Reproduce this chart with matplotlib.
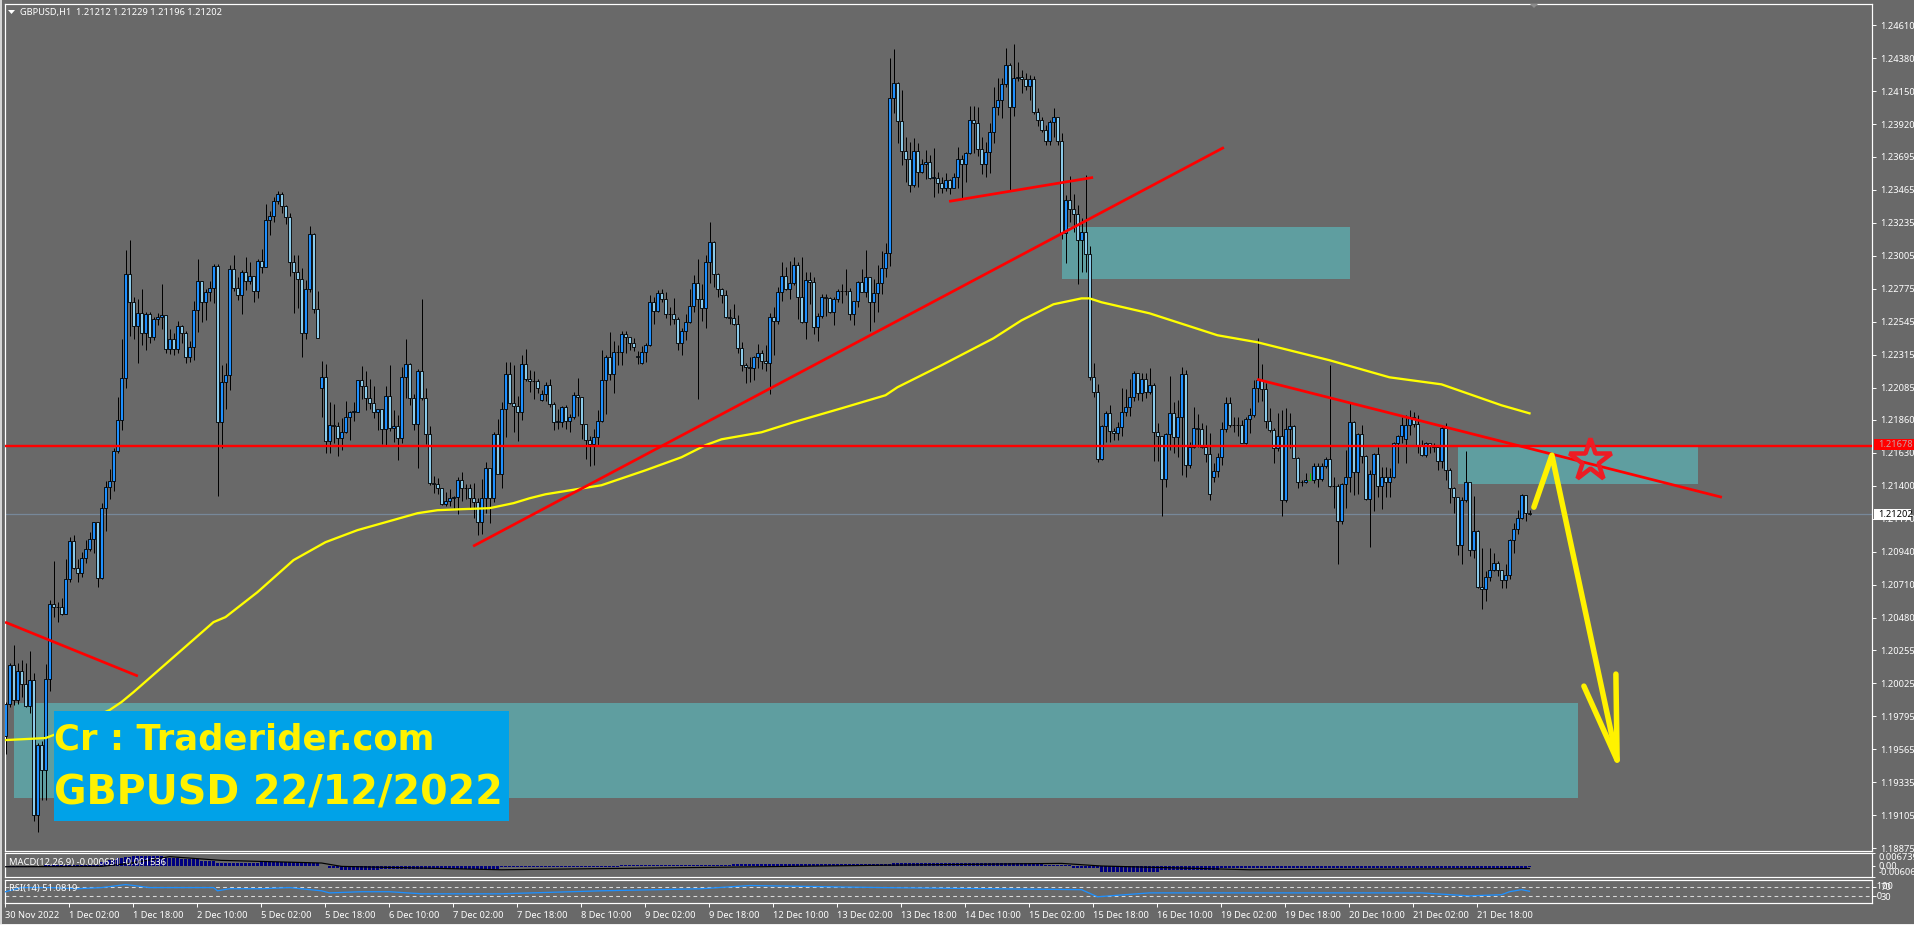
import numpy as np
import matplotlib
matplotlib.use("Agg")
import matplotlib.pyplot as plt
from matplotlib.patches import Rectangle, Polygon

plt.rcParams['font.family'] = ['Noto Sans', 'DejaVu Sans']

# ---------- data: prices in MT4 points (1 point = 0.00001) ----------
first_open = 119654
closes = [
119878,120151,119906,120109,120018,119864,120046,119108,119598,119423,
120053,120578,120557,120557,120508,120753,121019,120830,120795,120900,
120963,121033,121152,120760,121243,121390,121432,
121645,121862,122149,122877,122681,122513,122604,122464,122597,122436,
122562,122576,122590,122352,122422,122352,122513,122464,122296,122366,
122625,122828,122681,122751,122779,122933,121848,122121,122170,122912,
122779,122730,122891,122828,122863,122758,122968,122926,123255,123283,
123388,123437,123353,123276,122961,122891,122842,122464,122772,123157,
122632,122429,122156,121715,121827,121820,121736,121778,121883,121918,
121918,122135,122093,122016,121981,121918,121939,121799,122030,121806,
121820,121736,122156,122247,122016,121834,122198,122016,121764,121421,
121414,121386,121274,121295,121316,121323,121442,121386,121386,121316,
121288,121148,121316,121526,121316,121764,121484,121939,122177,121981,
121960,121918,122247,122142,122128,122128,122086,122044,122100,121974,
121848,121848,121953,121855,121883,122037,122023,121834,121722,121694,
121743,121855,122135,122296,122177,122331,122331,122457,122436,122394,
122366,122296,122331,122380,122681,122618,122744,122702,122597,122597,
122562,122394,122478,122541,122653,122814,122702,122639,122961,123101,
122877,122772,122730,122576,122569,122527,122359,122240,122226,122219,
122296,122324,122268,122254,122576,122548,122751,122863,122772,122814,
122940,122716,122541,122835,122821,122506,122583,122716,122709,122611,
122702,122758,122758,122758,122597,122688,122821,122751,122856,122681,
122744,122814,122919,123024,
124102,124207,123941,123731,123675,123500,123731,123591,123647,123654,
123549,123549,123514,123479,123535,123479,123556,123675,123647,123717,
123948,123927,123745,123647,123724,123864,124039,124088,124200,124333,
124039,124242,124249,124235,124186,124235,124004,123948,123878,123801,
123934,123969,123801,123164,123395,123332,123297,123115,123171,123017,
122156,
122055,121586,121817,121908,121782,121768,121810,121915,121950,122020,
122188,122048,122146,122055,122104,121775,121747,121446,121761,121908,
121740,121880,122181,121544,121670,121803,121796,121670,121621,121341,
121502,121600,121796,121978,121824,121824,121824,121698,121866,121894,
122083,122139,122076,121852,121789,121663,121747,121299,121796,121817,
121593,121425,121425,121439,121439,121537,121446,121537,121586,121397,
121397,121159,121411,121460,121845,121495,121761,121607,121306,121481,
121621,121397,121460,121425,121460,121698,121747,121824,121824,121880,
121831,121677,121614,121698,121684,121670,121572,121803,121509,121383,
121320,120991,121299,121425,120956,121089,120697,120683,120767,120816,
120865,120816,120746,120781,121026,121103,121180,121334,121208,121202]

highs = [
119892,120165,120291,120165,120186,120165,120249,120095,119612,119626,
120158,120606,120879,120592,120620,120893,121047,121061,120893,120942,
121026,121082,121152,121152,121278,121432,121516,
121666,122023,122422,123045,123115,122716,122702,122772,122611,122611,
122576,122604,122807,122590,122492,122464,122548,122520,122478,122408,
122688,122982,122828,122772,122828,122947,122947,122240,122254,122940,
123010,122856,122905,122996,122961,122856,122982,123052,123367,123318,
123416,123458,123451,123360,123304,123010,123010,122919,122835,123213,
123164,122758,122268,122247,121988,121974,121848,121876,121995,121925,
121988,122135,122233,122198,122142,122093,121939,121939,122093,122240,
121932,121897,122226,122422,122254,122044,122212,122702,122086,121820,
121470,121456,121386,121358,121379,121330,121463,121498,121414,121414,
121421,121316,121449,121568,121526,121778,121869,121988,122261,122261,
122240,122030,122310,122352,122205,122198,122142,122072,122121,122142,
121988,121939,121960,121967,121904,122058,122149,122016,121834,121750,
121799,121932,122345,122310,122471,122408,122380,122478,122478,122429,
122429,122338,122373,122394,122730,122716,122765,122772,122751,122646,
122709,122576,122499,122597,122772,122870,122982,122807,123010,123241,
123108,122884,122779,122765,122632,122667,122590,122401,122254,122296,
122303,122387,122345,122380,122604,122646,122786,122961,122926,122968,
122996,122961,122996,122891,122891,122856,122604,122737,122737,122716,
122716,122772,122807,122912,122779,122688,122828,122912,123045,122856,
122842,122940,123038,123094,
124382,124445,124214,124158,123829,123794,123822,123787,123675,123738,
123703,123752,123591,123556,123584,123542,123584,123759,123703,123724,
124046,124046,124039,123829,123794,123927,124179,124242,124242,124452,
124347,124480,124354,124298,124277,124263,124256,124032,123969,123913,
123948,124032,123969,123857,123430,123563,123437,123360,123269,123570,
123073,
122258,122111,121824,121922,121964,121803,121845,122083,122076,122146,
122202,122188,122188,122188,122223,122118,121838,121719,121768,122167,
121985,121999,122230,122209,121705,121950,121901,121838,121824,121768,
121558,121628,121845,122020,122020,121880,121880,121859,121880,121943,
122139,122433,122251,122118,121943,121803,121908,121929,121943,121908,
121824,121600,121439,121488,121488,121558,121558,121558,121600,122244,
121460,121411,121418,121649,121978,121852,121768,121824,121614,121509,
121628,121670,121530,121530,121523,121705,121754,121880,121894,121929,
121915,121894,121719,121705,121698,121698,121670,121824,121838,121523,
121390,121320,121320,121642,121418,121327,121096,120970,120809,120970,
120935,120879,120809,120858,121033,121145,121229,121341,121334,121229]

lows = [
119535,119857,119871,119878,119927,119857,119815,119066,118989,119213,
119213,119969,120487,120452,120501,120550,120732,120823,120732,120767,
120865,120949,120935,120697,120753,121089,121306,
121365,121631,121792,122086,122443,122422,122254,122380,122345,122394,
122415,122520,122492,122324,122317,122310,122324,122394,122254,122261,
122275,122471,122541,122555,122688,122674,121330,121666,121939,122072,
122758,122695,122597,122765,122807,122681,122709,122884,122926,123150,
123241,123367,123304,123227,122863,122604,122639,122296,122422,122751,
122604,122429,121883,121631,121631,121701,121610,121652,121771,121722,
121855,121918,122009,121932,121939,121876,121792,121694,121687,121785,
121708,121582,121701,122016,121967,121792,121526,122002,121694,121407,
121351,121344,121267,121260,121260,121246,121204,121295,121309,121239,
121176,121057,121064,121211,121141,121288,121484,121386,121743,121974,
121778,121715,121862,122128,122058,122009,122051,121995,121995,121953,
121792,121799,121813,121799,121778,121869,121890,121729,121589,121540,
121547,121680,121848,121904,122135,122051,122240,122240,122324,122345,
122338,122247,122247,122261,122373,122527,122611,122681,122569,122520,
122527,122345,122310,122415,122534,122611,122009,122548,122499,122814,
122786,122716,122674,122569,122527,122520,122324,122198,122114,122121,
122135,122219,122212,122198,122044,122310,122527,122688,122765,122702,
122800,122562,122534,122422,122667,122457,122408,122569,122583,122604,
122520,122681,122674,122730,122555,122520,122646,122751,122716,122478,
122541,122611,122737,122856,
122933,123997,123787,123640,123521,123451,123486,123486,123584,123542,
123542,123416,123444,123444,123458,123437,123479,123479,123409,123521,
123710,123717,123696,123577,123556,123584,123787,123983,123962,124179,
123458,123976,124221,124137,124158,124088,123990,123906,123864,123773,
123773,123829,123773,123122,122954,123241,123171,122807,122891,122891,
122135,
122020,121565,121579,121705,121705,121719,121719,121747,121887,121887,
121992,121999,121992,122013,122041,121572,121572,121194,121390,121649,
121628,121600,121474,121460,121523,121663,121670,121663,121565,121299,
121425,121460,121544,121775,121810,121775,121747,121698,121691,121768,
121880,121985,121992,121803,121775,121558,121642,121194,121285,121663,
121593,121383,121397,121418,121439,121418,121390,121432,121523,121390,
121243,120858,121138,121243,121355,121334,121341,121558,121299,120977,
121222,121320,121236,121320,121320,121453,121558,121698,121558,121754,
121810,121628,121607,121600,121628,121635,121509,121523,121439,121278,
121208,120921,120858,121285,120914,120900,120690,120543,120599,120739,
120809,120774,120690,120690,120753,120935,121068,121173,121159,121196]

open_gaps = {79: 122086, 134: 122002, 158: 122303, 159: 122254,
             302: 121460, 350: 121726, 381: 121212}
odd_green_bar = 326

ma_index = [0,10,12,26,29,32,52,55,63,72,80,88,95,103,108,114,121,127,131,135,
            149,160,169,175,179,189,197,209,220,223,234,247,254,262,269,271,274,
            286,303,313,331,346,359,374,381]
ma_points = [119629,119643,119664,119838,119894,119963,120451,120486,120660,120883,
             121008,121092,121147,121210,121231,121238,121245,121280,121314,121342,
             121405,121509,121600,121684,121725,121774,121844,121941,122032,122088,
             122241,122429,122554,122666,122707,122707,122680,122603,122450,122401,
             122276,122157,122108,121962,121906]

macd_runs = [(10,-.0007),(14,.0002),(2,.0019),(2,.0030),(2,.0041),(2,.0046),(8,.0051),
             (4,.0041),(5,.0035),(4,.0025),(11,.0014),(10,.0019),(5,.0014),(2,-.0002),
             (3,-.0013),(10,-.0023),(15,-.0018),(15,-.0018),(30,-.0008),(28,.0003),
             (40,.0008),(38,.0016),(7,.0006),(7,-.0015),(15,-.0035),(15,-.0022),
             (30,-.0012),(40,-.0014),(4,-.0018),(3,-.0012),(1,-.000631)]
signal_index = [0,24,31,41,54,79,84,124,181,219,264,274,311,381]
signal_values = [-.0006,-.0004,.0012,.0048,.0028,.0014,-.0004,-.0022,-.0008,.0002,.0012,-.0002,-.0022,-.001536]

rsi_index = [0,4,11,18,24,30,32,36,44,52,53,56,64,71,79,81,89,96,104,109,124,149,174,186,219,
             269,273,286,324,336,354,366,374,376,379,381]
rsi_values = [49,67,67,62,67,80,76,67,67,67,53,62,62,67,53,44,49,49,40,40,40,53,62,76,67,
              58,27,44,44,44,44,31,36,49,58,51]

price_ticks = [124610,124380,124150,123920,123695,123465,123235,123005,122775,122545,
               122315,122085,121860,121630,121400,121170,120940,120710,120480,120255,
               120025,119795,119565,119335,119105,118875]
time_labels = ["30 Nov 2022","1 Dec 02:00","1 Dec 18:00","2 Dec 10:00","5 Dec 02:00",
               "5 Dec 18:00","6 Dec 10:00","7 Dec 02:00","7 Dec 18:00","8 Dec 10:00",
               "9 Dec 02:00","9 Dec 18:00","12 Dec 10:00","13 Dec 02:00","13 Dec 18:00",
               "14 Dec 10:00","15 Dec 02:00","15 Dec 18:00","16 Dec 10:00","19 Dec 02:00",
               "19 Dec 18:00","20 Dec 10:00","21 Dec 02:00","21 Dec 18:00"]
BARS_PER_LABEL = 16

# zones: (first bar, last bar, upper price, lower price)
zones = [(264, 336, 123202, 122840), (363, 423, 121677, 121412), (2, 393, 119887, 119225)]
# trend lines: (bar0, price0, bar1, price1)
trend_lines = [(-0.1, 120451, 33.1, 120075), (116.9, 120980, 304.6, 123759),
               (235.9, 123383, 271.9, 123550), (312.9, 122143, 429.1, 121321)]
level_price = 121678
last_price = 121202
arrow_bars = [382.1, 386.6, 402.9]
arrow_prices = [121252, 121614, 119490]
head_bars = [394.6, 402.9, 402.6]
head_prices = [120005, 119490, 120089]
star_bar, star_price = 396.1, 121579

# ---------- colours and layout ----------
BG = '#696969'
UP = '#1e90ff'
DOWN = '#8ccbea'
TEAL = '#5f9ea0'
YEL = '#fff200'
RED = '#ff0000'
W, H = 1914, 925
px = 1 / 100 * 72  # points per pixel

fig = plt.figure(figsize=(W / 100, H / 100), dpi=100, facecolor=BG)

def panel(top, bottom):
    a = fig.add_axes([5 / W, 1 - bottom / H, 1867 / W, (bottom - top) / H], facecolor=BG)
    a.set_xlim(-0.125, 466.625)
    for s in a.spines.values():
        s.set_color('white')
        s.set_linewidth(1.0 * px * 1.2)
    a.yaxis.tick_right()
    a.tick_params(axis='y', colors='white', length=3, width=0.7, labelsize=6.7, pad=3)
    a.set_xticks([])
    return a

fig.add_artist(Rectangle((0, 0), 1.5 / W, 1, transform=fig.transFigure, color='#d4d4d4', lw=0))
fig.add_artist(Rectangle((0, 0), 1, 1.2 / H, transform=fig.transFigure, color='#f0f0f0', lw=0))

ax = panel(3.5, 851)
ax.set_ylim(1.18856, 1.24762)
ax.set_yticks([t / 1e5 for t in price_ticks])
ax.set_yticklabels([f"{t / 1e5:.5f}" for t in price_ticks])

# zones
for b0, b1, up, lo in zones:
    ax.add_patch(Rectangle((b0, lo / 1e5), b1 - b0, (up - lo) / 1e5, color=TEAL, lw=0, zorder=1))

# last price line
ax.axhline(last_price / 1e5, color='#778899', lw=0.9, zorder=1.5)

# candles
c = np.array(closes) / 1e5
h = np.array(highs) / 1e5
l = np.array(lows) / 1e5
o = np.r_[first_open / 1e5, c[:-1]]
for k, v in open_gaps.items():
    o[k] = v / 1e5
assert len(c) == len(h) == len(l) == 382, (len(c), len(h), len(l))
idx = np.arange(len(c))
wick_cols = ['#00d000' if i == odd_green_bar else 'black' for i in idx]
ax.vlines(idx, np.minimum(l, np.minimum(o, c)), np.maximum(h, np.maximum(o, c)),
          colors=wick_cols, lw=1.0 * px, zorder=3)
body_cols = [UP if c[i] >= o[i] else DOWN for i in idx]
tops = np.maximum(o, c)
bots = np.minimum(o, c)
heights = np.maximum(tops - bots, 0.00002)
ax.bar(idx, heights, bottom=bots, width=0.56, color=body_cols,
       edgecolor=wick_cols, linewidth=0.85 * px, zorder=4)

# moving average
ax.plot(ma_index, np.array(ma_points) / 1e5, color='#ffff00', lw=2.3 * px, zorder=5,
        solid_joinstyle='round')

# trend lines and level
for b0, p0, b1, p1 in trend_lines:
    ax.plot([b0, b1], [p0 / 1e5, p1 / 1e5], color=RED, lw=2.7 * px, zorder=6,
            solid_capstyle='butt')
ax.axhline(level_price / 1e5, color=RED, lw=2.4 * px, zorder=6)

# drawn arrow and star
ax.plot(arrow_bars, np.array(arrow_prices) / 1e5, color=YEL, lw=5.5 * px, zorder=7,
        solid_joinstyle='round', solid_capstyle='round')
ax.plot(head_bars, np.array(head_prices) / 1e5, color=YEL, lw=5.5 * px, zorder=7,
        solid_joinstyle='round', solid_capstyle='round')
ax.plot([star_bar], [star_price / 1e5], marker='*', ms=44 * px, mfc='none', mec='#ed1c24',
        mew=4.5 * px, zorder=8, ls='none')

# MACD
ax2 = panel(853, 877)
ax2.set_ylim(-0.006063, 0.006739)
hist = []
for n, v in macd_runs:
    hist += [v] * n
ax2.bar(np.arange(len(hist)), hist, width=0.62, color='#000080', lw=0, zorder=2)
ax2.plot(signal_index, signal_values, color='black', lw=1.0 * px * 1.2, zorder=3)
ax2.set_yticks([0.006739, 0.0, -0.006063])
ax2.set_yticklabels(['0.006739', '0.00', '-0.006063'])
ax2.tick_params(axis='y', pad=3, length=2)
labs = ax2.get_yticklabels()
labs[0].set_va('top'); labs[2].set_va('bottom')

# RSI
ax3 = panel(880, 903)
ax3.set_ylim(0, 100)
for lev in (70, 30):
    ax3.axhline(lev, color='#d8d8d8', lw=0.9 * px * 1.2, ls=(0, (3.5, 3)), zorder=2)
ax3.plot(rsi_index, rsi_values, color=UP, lw=1.0 * px * 1.3, zorder=3)
ax3.set_yticks([70, 30])
ax3.set_yticklabels(['70', '30'])

# overlapping scale labels of the RSI window, as in the terminal
for lab, val in (('100', 70), ('0', 30)):
    ax3.text(1.0, val, '  ' + lab, transform=ax3.get_yaxis_transform(), color='white',
             fontsize=6.7, va='center', ha='left')

# time axis
ax3.set_xticks([i * BARS_PER_LABEL - 0.1 for i in range(len(time_labels))])
ax3.set_xticklabels(time_labels, ha='left')
ax3.tick_params(axis='x', colors='white', length=3, width=0.7, labelsize=6.7, pad=2.5)

def ftext(x, y, s, **kw):
    return fig.text(x / W, 1 - y / H, s, **kw)

# header
fig.add_artist(Polygon([[8 / W, 1 - 10 / H], [15 / W, 1 - 10 / H], [11.5 / W, 1 - 14 / H]],
                       transform=fig.transFigure, color='white', lw=0))
ftext(20, 12, "GBPUSD,H1  1.21212 1.21229 1.21196 1.21202", color='white', fontsize=6.65,
      va='center', ha='left')
ftext(9, 862.5, "MACD(12,26,9) -0.000631 -0.001536", color='white', fontsize=6.8, va='center')
ftext(9, 888.5, "RSI(14) 51.0819", color='white', fontsize=6.8, va='center')

# shift marker at the top
fig.add_artist(Polygon([[1530 / W, 1 - 4 / H], [1538 / W, 1 - 4 / H], [1534 / W, 1 - 8 / H]],
                       transform=fig.transFigure, color='#8c8c8c', lw=0))

# price labels on the scale
def price_box(y, s, bg, fg, w):
    fig.add_artist(Rectangle((1874 / W, 1 - (y + 5.5) / H), w / W, 11 / H,
                             transform=fig.transFigure, color=bg, lw=0, zorder=20))
    ftext(1878, y, s, color=fg, fontsize=6.7, va='center', ha='left', zorder=21)

price_box(444.7, f"{level_price / 1e5:.5f}", '#ff0000', '#c9a0a0', 40)
price_box(514.3, f"{last_price / 1e5:.5f}", 'white', 'black', 37)

# banner
fig.add_artist(Rectangle((54 / W, 1 - 821 / H), 455 / W, 110 / H, transform=fig.transFigure,
                         color='#00a2e8', lw=0, zorder=15))
ftext(54, 750, "Cr : Traderider.com", color=YEL, fontsize=25.5, fontweight='bold',
      family='DejaVu Sans', va='baseline', ha='left', zorder=16)
ftext(54, 805, "GBPUSD 22/12/2022", color=YEL, fontsize=28.5, fontweight='bold',
      family='DejaVu Sans', va='baseline', ha='left', zorder=16)

fig.savefig('out.png', dpi=100, facecolor=BG)
